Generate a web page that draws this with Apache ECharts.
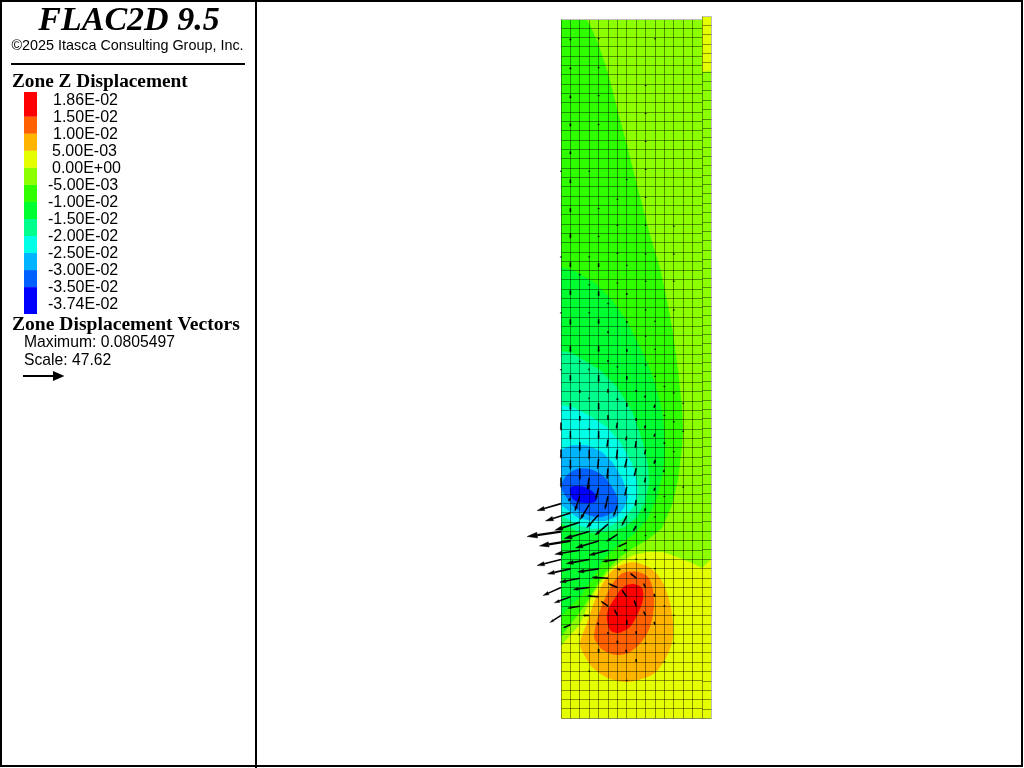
<!DOCTYPE html>
<html>
<head>
<meta charset="utf-8">
<style>html,body{margin:0;padding:0;background:#fff}#c{width:1024px;height:768px}</style>
<script src="https://cdn.jsdelivr.net/npm/echarts@6/dist/echarts.min.js"></script>
</head>
<body>
<div id="c"></div>
<script>
// Legend
const legendLabels = ['1.86E-02','1.50E-02','1.00E-02','5.00E-03','0.00E+00','-5.00E-03','-1.00E-02','-1.50E-02','-2.00E-02','-2.50E-02','-3.00E-02','-3.50E-02','-3.74E-02'];
const legendColors = ['#ff0000','#ff6000','#ffb400','#e6ff00','#8cff00','#30ff00','#00ff30','#00ff8c','#00ffe6','#00b4ff','#0060ff','#0000ff'];

// Mesh extents in model units (x across, depth downward)
const meshWidth = 150.4, meshDepth = 699.5, colStep = 9.4, rowStep = 9.32;
const meshCols = 16, meshRows = 75;

// Contour regions [x, depth]
const meshOutline = [[0,0],[141,0],[141,-3],[150.4,-3],[150.4,699.5],[0,699.5]];
const below0 = [[0,0],[141,0],[141,53],[150.4,52],[150.4,540],[146,544],[141,549],[131,544],[119,539],[102,533],[86,533],[72,536],[59,543],[49,551],[39,564],[29,581],[19,605],[0,627]];
const belowM5 = [[0,0],[25,0],[29,6],[37,24],[47,54],[57,93],[66,126],[76,166],[89,216],[99,249],[106,281],[112,314],[117,351],[121,388],[122,411],[121,428],[117,461],[111,486],[101,509],[86,521],[72,529],[59,538],[46,551],[37,564],[29,578],[19,593],[9,606],[0,618]];
const belowM10 = [[0,248],[14,252],[34,264],[51,281],[67,304],[84,338],[94,364],[102,396],[104,428],[102,454],[96,478],[86,501],[72,516],[61,523],[52,531],[42,541],[36,553],[27,566],[19,578],[7,589],[0,598]];
const belowM15 = [[0,332],[11,334],[24,342],[39,351],[56,368],[72,394],[82,424],[87,446],[88,464],[84,484],[76,498],[64,508],[51,512],[34,514],[17,513],[0,504]];
const belowM20 = [[0,386],[12,388],[29,397],[46,408],[59,423],[71,444],[76,461],[77,473],[75,484],[67,495],[57,503],[44,509],[31,510],[17,506],[0,496]];
const belowM25 = [[0,431],[11,426],[26,426],[41,433],[52,444],[62,461],[67,478],[63,489],[55,498],[44,502],[31,502],[17,499],[0,486]];
const belowM30 = [[1,464],[6,456],[16,450],[29,450],[41,456],[51,468],[57,481],[54,491],[41,498],[27,496],[14,489],[6,479],[1,471]];
const belowM35 = [[9,469],[14,467],[24,468],[32,473],[36,478],[34,483],[27,484],[17,483],[11,479]];
const above5 = [[26,604],[34,581],[42,564],[52,551],[66,544],[77,544],[92,551],[102,564],[109,584],[112,604],[111,624],[102,644],[91,656],[66,663],[47,659],[32,649],[22,634],[19,624]];
const above10 = [[33,618],[36,601],[42,584],[52,564],[62,554],[77,553],[87,558],[92,571],[93,588],[89,608],[82,621],[69,633],[56,636],[42,631],[36,624]];
const above15 = [[46,601],[47,591],[54,579],[62,568],[72,565],[81,569],[82,581],[77,594],[69,608],[57,614],[49,611]];

// Displacement vectors: [column, row, dx, dy] at the sampled mesh nodes
const vectorsLarge = [
 [0,52,-24,7],[1,53,-25,8],[2,54,-25,8],[0,55,-34,5],[3,55,-25,7],[1,56,-31,5],[4,56,-23,7],[2,57,-25,4],[5,57,-19,5],
 [0,58,-24,6],[3,58,-23,4],[6,58,-15,2],[1,59,-23,5],[4,59,-21,3],[2,60,-20,4],[5,60,-16,-1],[0,61,-18,8],[3,61,-16,2],
 [1,62,-16,6],[4,62,-11,-1],[2,63,-12,2],[0,64,-11,7],[3,64,-6,0],[1,65,-7,3]
];
const vectorsSteep = [
 [2,45.4,0,9],[3,46.2,0,10],[1,47.3,0,10],[0,46.2,0,9],[0,49.2,0,10],[2,48.2,0,12],[4,47.2,-1,10],[3,49.2,-2,12],[5,48.2,-1,11],
 [4,50.3,-3,12],[2,51.2,-5,15],[5,51.2,-3,13],[3,52.1,-9,15],[6,52.2,-4,11],[4,53.2,-12,13],[7,53.3,-5,10],[5,54.2,-13,11],
 [8,54.4,-3,5],[6,55.3,-11,7],[7,56.2,-9,4],[1,51.4,-2,3],[8,48.2,-2,8],[9,46.2,-1,5],[6,46.2,-1,10],[5,45.1,-1,8],[7,47.2,-2,9],
 [8,45.3,-1,7],[9,49.2,-1,5],[8,51.6,-1,6],[10,47.3,0,3],[10,50.3,-1,3],[9,52.5,-1,3],[11,48.4,-1,2],[11,51.2,0,1],[12,46.4,0,1],[13,50.2,0,1],[11,45.4,0,2],
 [0,43.3,0,8],[1,44.2,0,8],[2,42.6,0,5],[3,43.9,0,2],[3,50,-1,4],[4,44.2,0,8],[4,41.2,0,7],[5,42.5,0,5],[6,43.3,-1,6],[7,44.8,-1,4],[8,42.8,0,3],[9,43.6,-1,3],[10,41.4,-1,3],[10,44.5,-1,3],[7,50.2,-2,9],[8,39.8,0,2],[9,40.4,-1,2],[9,55.4,0,1],[10,53.4,0,1],[10,47.4,-1,3]
];
const vectorsHot = [
 [6,59,3,1],[7,57,-3,0],[6,61,-9,-4],[8,60,-6,-5],[7,62,-5,-7],[5,63,-7,-5],[6,64,-3,-6],[8,63,-2,-6],[9,61,-2,-4],[9,64,-2,-4],
 [10,62,-1,-3],[10,65,-1,-3],[7,65,0,-5],[6,67,0,-3],[5,66,0,-2],[4,65,-1,-2],[8,66,0,-3],[4,68,0,-4],[7,68,-1,-3],[8,69,0,-3],
 [9,67,0,-1],[11,69,0,-1],[7,71,0,-1],[3,70,0,-1],[2,66,-1,1],[12,64,0,-1],[11,63,0,-1],[12,67,0,-1],[10,59,0,-1],[9,58,0,-1],[8,58,0,-1]
];
const vectorsUpper = [
 [1,2.1,0,2],[1,5.2,0,2],[1,8.2,0,3],[1,11.2,0,3],[1,14.2,0,3],[1,17.2,0,4],[1,20.3,0,4],[1,23,0,5],[1,26.1,0,5],[1,29.1,0,5],[1,32.2,0,6],[1,35.1,0,6],[1,38.2,0,6],[1,41.2,0,7],
 [4,2.1,0,1],[4,5.2,0,1],[4,8.2,0,1],[4,11.3,0,1],[4,20.3,0,1],[4,23.3,0,1],[4,26.2,0,4],[4,29.2,0,5],[4,32.2,0,5],[4,35.1,0,6],[4,38.2,0,7],
 [0,16.3,0,1],[0,25.5,0,1],[0,31.5,0,1],[0,37.6,0,1],[3,16.3,0,1],[3,25.5,0,1],[3,28.5,0,1],[3,31.5,0,1],[3,37.6,-1,0],[3,40.7,-1,0],
 [2,27.4,0,1],[2,36.7,0,1],[2,39.8,0,3],[5,30.5,0,1],[5,33.5,0,2],[5,36.6,0,2],[5,39.7,0,4],
 [6,19.3,0,1],[6,22.1,0,1],[6,25.1,0,1],[6,28.3,0,1],[6,37.3,0,1],[6,40.7,0,2],
 [7,17.2,0,1],[7,26.4,0,1],[7,29.4,0,2],[7,32.4,0,2],[7,35.4,0,3],[7,38.3,0,4],[7,41.2,0,4],
 [9,7.1,0,1],[9,10.1,0,1],[9,13.1,0,1],[9,16.1,0,1],[9,19.1,0,1],[9,22.1,0,1],[9,25.2,0,1],[9,28.1,0,1],[9,31.2,0,1],[9,34,0,1],[9,37.1,0,1],
 [10,2.1,0,1],[10,32.4,0,1],[10,35.4,0,1],[10,38.3,0,1],[11,39.4,0,1],[11,42.5,0,1],[12,22.2,0,1],[12,25.2,0,1],[12,28.1,0,1],[12,31.2,0,1],[12,40.1,0,1],[12,43.2,0,1],[13,41.2,0,1],[13,44.2,0,1]
];

const contours = [
 {pts: meshOutline, color: '#e6ff00'},
 {pts: below0, color: '#8cff00'},
 {pts: belowM5, color: '#30ff00'},
 {pts: belowM10, color: '#00ff30'},
 {pts: belowM15, color: '#00ff8c'},
 {pts: belowM20, color: '#00ffe6'},
 {pts: belowM25, color: '#00b4ff'},
 {pts: belowM30, color: '#0060ff', smooth: 0.3},
 {pts: belowM35, color: '#0000ff', smooth: 0.3},
 {pts: above5, color: '#ffb400', smooth: 0.3},
 {pts: above10, color: '#ff6000', smooth: 0.3},
 {pts: above15, color: '#ff0000', smooth: 0.3}
];

// Mesh lines, in model units
const meshLines = [];
for (let i = 0; i <= meshCols; i++) {
  const x = i === meshCols ? meshWidth : i * colStep;
  meshLines.push([x, i >= 15 ? -3 : 0, x, meshDepth, i === meshCols ? 'edge' : 'mesh']);
}
for (let j = 0; j <= meshRows; j++) {
  const y = j === meshRows ? meshDepth : j * rowStep;
  meshLines.push([0, y, 15 * colStep, y, j === 0 ? 'edge' : 'mesh']);
  const y2 = j === meshRows ? meshDepth : -3 + j * (meshDepth + 3) / meshRows;
  meshLines.push([15 * colStep, y2, meshWidth, y2, j === 0 ? 'edge' : 'mesh']);
}

const vectors = [...vectorsLarge, ...vectorsSteep, ...vectorsHot, ...vectorsUpper];

function snap(v) { return Math.round(v - 0.5) + 0.5; }

const graphicEls = [];
function addText(text, x, y, font, align) {
  graphicEls.push({type:'text', x, y, silent:true, style:{text, font, fill:'#000', textAlign:align||'left', textVerticalAlign:'middle'}});
}
// frame and divider
graphicEls.push({type:'rect', shape:{x:1,y:1,width:1021,height:765}, style:{fill:null, stroke:'#000', lineWidth:2}});
graphicEls.push({type:'line', shape:{x1:256,y1:0,x2:256,y2:768}, style:{stroke:'#000', lineWidth:2}});
graphicEls.push({type:'line', shape:{x1:11,y1:64,x2:245,y2:64}, style:{stroke:'#000', lineWidth:2}});

addText('FLAC2D 9.5', 129, 21, 'italic bold 34px "Liberation Serif"', 'center');
addText('\u00A92025 Itasca Consulting Group, Inc.', 127.5, 46, '14.4px "Liberation Sans"', 'center');
addText('Zone Z Displacement', 12, 82.5, 'bold 19.3px "Liberation Serif"');
addText('Zone Displacement Vectors', 12, 325, 'bold 19.6px "Liberation Serif"');
addText('Maximum: 0.0805497', 24, 343, '15.7px "Liberation Sans"');
addText('Scale: 47.62', 24, 360.5, '15.7px "Liberation Sans"');

legendColors.forEach((c, i) => {
  const top = i === 0 ? 92 : 116.8 + 17.03 * (i - 1);
  const bottom = i === legendColors.length - 1 ? 314 : 116.8 + 17.03 * i;
  graphicEls.push({type:'rect', shape:{x:24,y:top,width:13,height:bottom-top}, style:{fill:c}});
});
legendLabels.forEach((t, i) => {
  const x = t[0] === '-' ? 48 : (i === 3 || i === 4 ? 52 : 53);
  addText(t, x, 100.5 + 17.03 * i, '16px "Liberation Sans"');
});
// legend arrow
graphicEls.push({type:'line', shape:{x1:23,y1:376,x2:54,y2:376}, style:{stroke:'#000', lineWidth:2}});
graphicEls.push({type:'polygon', shape:{points:[[53,371],[64.5,376],[53,381]]}, style:{fill:'#000'}});

const chart = echarts.init(document.getElementById('c'), null, {renderer:'canvas', width:1024, height:768});
chart.setOption({
  animation: false,
  backgroundColor: '#fff',
  grid: {left:561, top:19, width:meshWidth, height:meshDepth, show:false},
  xAxis: {type:'value', min:0, max:meshWidth, show:false},
  yAxis: {type:'value', min:0, max:meshDepth, inverse:true, show:false},
  graphic: {elements: graphicEls},
  series: [
    {
      type:'custom', silent:true, z:1,
      data: contours.map((c, i) => [i, 0]),
      renderItem(params, api) {
        const c = contours[params.dataIndex];
        return {type:'polygon', shape:{points:c.pts.map(p => api.coord(p)), smooth:c.smooth || 0}, style:{fill:c.color}};
      }
    },
    {
      type:'custom', silent:true, z:2,
      data: meshLines.map((l, i) => [i, 0]),
      renderItem(params, api) {
        const l = meshLines[params.dataIndex];
        const a = api.coord([l[0], l[1]]), b = api.coord([l[2], l[3]]);
        return {type:'line', shape:{x1:snap(a[0]), y1:snap(a[1]), x2:snap(b[0]), y2:snap(b[1])},
          style:{stroke: l[4] === 'edge' ? '#bdbdbd' : 'rgba(0,0,0,0.42)', lineWidth:1}};
      }
    },
    {
      type:'custom', silent:true, z:3,
      data: vectors.map((v, i) => [i, 0]),
      renderItem(params, api) {
        const v = vectors[params.dataIndex];
        const mx = v[0] * colStep, my = v[1] * rowStep;
        const t = api.coord([mx, my]), h = api.coord([mx + v[2], my + v[3]]);
        const dx = h[0] - t[0], dy = h[1] - t[1], len = Math.hypot(dx, dy) || 1;
        const ux = dx / len, uy = dy / len;
        const hl = Math.max(0.3 * len, 1), hw = Math.max(0.085 * len, 0.9);
        const bx = h[0] - ux * hl, by = h[1] - uy * hl;
        const w = len > 29 ? 2.2 : (len > 20 ? 1.6 : 1.5);
        return {type:'group', children:[
          {type:'line', shape:{x1:t[0], y1:t[1], x2:bx, y2:by}, style:{stroke:'#000', lineWidth:w}},
          {type:'polygon', shape:{points:[[h[0],h[1]],[bx - uy * hw, by + ux * hw],[bx + uy * hw, by - ux * hw]]}, style:{fill:'#000', stroke:'#000', lineWidth:0.4}}
        ]};
      }
    }
  ]
});
</script>
</body>
</html>
